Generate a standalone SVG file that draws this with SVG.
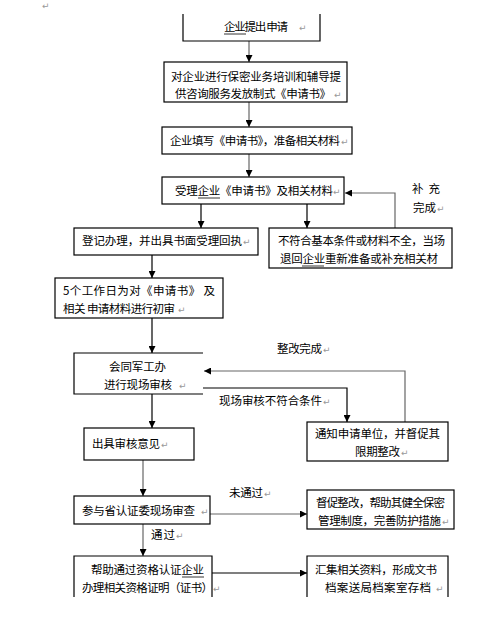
<svg xmlns="http://www.w3.org/2000/svg" width="500" height="619" viewBox="0 0 500 619">
<style>
.b{fill:#fff;stroke:#000;stroke-width:1.2}
.o{fill:none;stroke:#000;stroke-width:1.2}
.c{fill:none;stroke:#000;stroke-width:1.2}
.g{stroke:#666}
text{font-family:"Noto Sans CJK SC","Noto Sans",sans-serif;font-size:11.5px;fill:#000}
.p{fill:#999;font-size:9px;font-family:"DejaVu Sans",sans-serif}
.u{stroke:#000;stroke-width:0.8}
</style>
<defs>
<marker id="ah" markerWidth="7" markerHeight="7" refX="7" refY="3.5" orient="auto" markerUnits="userSpaceOnUse">
<path d="M0,0 L7,3.5 L0,7 z" fill="#000"/>
</marker>
</defs>
<rect width="500" height="619" fill="#fff"/>
<text class="p" x="42" y="9">↵</text>

<g id="connectors">
<line class="c g" x1="249" y1="41" x2="249" y2="62" marker-end="url(#ah)"/>
<line class="c g" x1="249" y1="102" x2="249" y2="127" marker-end="url(#ah)"/>
<line class="c g" x1="249" y1="154" x2="249" y2="177" marker-end="url(#ah)"/>
<line class="c" x1="201" y1="204" x2="201" y2="228" marker-end="url(#ah)"/>
<line class="c" x1="307" y1="204" x2="307" y2="228" marker-end="url(#ah)"/>
<polyline class="c g" points="395,228 395,193 345,193" marker-end="url(#ah)"/>
<line class="c" x1="152" y1="255" x2="152" y2="278" marker-end="url(#ah)"/>
<line class="c" x1="152" y1="318" x2="152" y2="353" marker-end="url(#ah)"/>
<polyline class="c" points="203,388 347,388 347,422" marker-end="url(#ah)"/>
<polyline class="c g" points="405,422 405,371 204,371" marker-end="url(#ah)"/>
<line class="c" x1="152" y1="394" x2="152" y2="428" marker-end="url(#ah)"/>
<line class="c g" x1="143" y1="460" x2="143" y2="496" marker-end="url(#ah)"/>
<line class="c g" x1="210" y1="514" x2="307" y2="514" marker-end="url(#ah)"/>
<line class="c g" x1="143" y1="524" x2="143" y2="556" marker-end="url(#ah)"/>
<line class="c" x1="212" y1="573" x2="307" y2="573" marker-end="url(#ah)"/>
<text x="412" y="193" textLength="28">补 充</text>
<text x="413" y="212">完成</text><text class="p" x="437" y="212">↵</text>
<text x="277" y="353" textLength="45">整改完成</text><text class="p" x="323" y="353">↵</text>
<text x="219" y="405" textLength="103">现场审核不符合条件</text><text class="p" x="323" y="405">↵</text>
<text x="229" y="497" textLength="34">未通过</text><text class="p" x="264" y="497">↵</text>
<text x="151" y="539" textLength="24">通过</text><text class="p" x="176" y="539">↵</text>
</g>

<g id="n1">
<path class="o" d="M183,14 V41 H320 V14"/>
<text x="224" y="31" textLength="64">企业提出 申请</text><text class="p" x="299" y="31">↵</text>
<line class="u" x1="224" y1="34" x2="246" y2="34"/>
</g>
<g id="n2">
<rect class="b" x="164" y="62" width="183" height="40"/>
<text x="171" y="81" textLength="170">对企业进行保密业务培训和辅导提</text>
<text x="175" y="98" textLength="156">供咨询服务发放制式《申请书》</text><text class="p" x="334" y="98">↵</text>
</g>
<g id="n3">
<rect class="b" x="162" y="127" width="190" height="27"/>
<text x="170" y="145" textLength="170">企业填写《申请书》，准备相关材料</text><text class="p" x="341" y="145">↵</text>
</g>
<g id="n4">
<rect class="b" x="162" y="177" width="182" height="27"/>
<text x="175" y="195" textLength="158">受理企业《申请书》及相关材料</text><text class="p" x="333" y="195">↵</text>
<line class="u" x1="198" y1="198" x2="220" y2="198"/>
</g>
<g id="n5">
<rect class="b" x="74" y="228" width="184" height="27"/>
<text x="82" y="245" textLength="160">登记办理，并出具书面受理回执</text><text class="p" x="243" y="245">↵</text>
</g>
<g id="n6">
<rect class="b" x="269" y="228" width="183" height="40"/>
<text x="278" y="245" textLength="167">不符合基本条件或材料不全，当场</text>
<text x="280" y="263" textLength="158">退回企业重新准备或补充相关材</text>
<line class="u" x1="302" y1="266" x2="324" y2="266"/>
</g>
<g id="n7">
<rect class="b" x="55" y="278" width="168" height="40"/>
<text x="63" y="295" textLength="152">5个工作日为对《申请书》 及</text>
<text x="63" y="313" textLength="112">相关 申请材料进行初审</text><text class="p" x="178" y="313">↵</text>
</g>
<g id="n8">
<path class="o" d="M203,353 H74 V394 H203"/>
<text x="109" y="371" textLength="57">会同军工办</text>
<text x="104" y="389" textLength="68">进行现场审核</text><text class="p" x="179" y="389">↵</text>
</g>
<g id="n9">
<rect class="b" x="307" y="422" width="141" height="39"/>
<text x="315" y="438" textLength="125">通知申请单位，并督促其</text>
<text x="355" y="456" textLength="45">限期整改</text><text class="p" x="401" y="456">↵</text>
</g>
<g id="n10">
<rect class="b" x="84" y="428" width="110" height="32"/>
<text x="92" y="448" textLength="68">出具审核意见</text><text class="p" x="161" y="448">↵</text>
</g>
<g id="n11">
<rect class="b" x="74" y="496" width="136" height="28"/>
<text x="82" y="515" textLength="113">参与省认证委现场审查</text><text class="p" x="201" y="515">↵</text>
</g>
<g id="n12">
<rect class="b" x="307" y="490" width="147" height="39"/>
<text x="316" y="507" textLength="129">督促整改，帮助其健全保密</text>
<text x="318" y="525" textLength="123">管理制度，完善防护措施</text><text class="p" x="442" y="525">↵</text>
</g>
<g id="n13">
<path class="o" d="M74,597 V556 H212 V597"/>
<text x="91" y="574" textLength="113">帮助通过资格认证企业</text>
<text x="82" y="592" textLength="131">办理相关资格证明（证书）</text><text class="p" x="213" y="592">↵</text>
<line class="u" x1="182" y1="577" x2="204" y2="577"/>
</g>
<g id="n14">
<path class="o" d="M307,597 V556 H448 V597"/>
<text x="315" y="574" textLength="122">汇集相关资料，形成文书</text>
<text x="325" y="592" textLength="106">档案送局档案室存档</text><text class="p" x="436" y="592">↵</text>
</g>
</svg>
